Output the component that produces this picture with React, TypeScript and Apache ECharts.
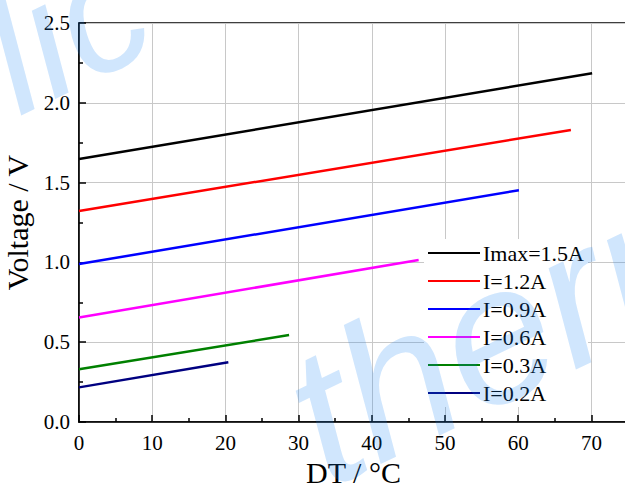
import React, { useEffect, useRef } from "react";
import * as echarts from "echarts";

const seriesNames = ["Imax=1.5A", "I=1.2A", "I=0.9A", "I=0.6A", "I=0.3A", "I=0.2A"];
const seriesColors = ["#000000", "#ff0000", "#0000ff", "#ff00ff", "#008000", "#000080"];
const startDT = [0, 0, 0, 0, 0, 0];
const endDT = [70.1, 67.2, 60.1, 46.4, 28.7, 20.4];
const startV = [1.648, 1.322, 0.99, 0.655, 0.33, 0.217];
const endV = [2.185, 1.83, 1.452, 1.015, 0.545, 0.374];
const xTicks = [0, 10, 20, 30, 40, 50, 60, 70];
const yTicks = [0.0, 0.5, 1.0, 1.5, 2.0, 2.5];

const serif = "'Liberation Serif', 'Times New Roman', serif";

export default function App() {
  const ref = useRef<HTMLDivElement>(null);
  useEffect(() => {
    if (!ref.current) return;
    const chart = echarts.init(ref.current, null, { renderer: "svg" });
    const series = seriesNames.map((name, i) => ({
      name,
      type: "line",
      data: [
        [startDT[i], startV[i]],
        [endDT[i], endV[i]],
      ],
      showSymbol: false,
      symbol: "none",
      lineStyle: { color: seriesColors[i], width: 2.5 },
      itemStyle: { color: seriesColors[i] },
      z: 3,
    }));
    chart.setOption({
      animation: false,
      backgroundColor: "#ffffff",
      grid: {
        left: 79,
        right: -3,
        top: 23,
        bottom: 62,
        outerBoundsMode: "none",
        containLabel: false,
        show: true,
        borderColor: "#000",
        borderWidth: 1.5,
      },
      xAxis: {
        type: "value",
        min: 0,
        max: 75,
        interval: 10,
        name: "DT / °C",
        nameLocation: "middle",
        nameGap: 27,
        nameTextStyle: { fontFamily: serif, fontSize: 30, color: "#000" },
        axisLine: { show: true, onZero: false, lineStyle: { color: "#000", width: 1.5 } },
        axisTick: { show: true, inside: true, length: 7, lineStyle: { color: "#000", width: 1.5 } },
        minorTick: { show: true, splitNumber: 2, length: 4, lineStyle: { color: "#000", width: 1.5 } },
        splitLine: { show: true, lineStyle: { color: "#c8c8c8", width: 1 } },
        axisLabel: {
          fontFamily: serif,
          fontSize: 21,
          color: "#000",
          margin: 10,
          formatter: (v: number) => (xTicks.includes(v) ? String(v) : ""),
        },
      },
      yAxis: {
        type: "value",
        min: 0,
        max: 2.5,
        interval: 0.5,
        name: "Voltage / V",
        nameLocation: "middle",
        nameGap: 41,
        nameTextStyle: { fontFamily: serif, fontSize: 30, color: "#000" },
        axisLine: { show: true, lineStyle: { color: "#000", width: 1.5 } },
        axisTick: { show: true, inside: true, length: 7, lineStyle: { color: "#000", width: 1.5 } },
        minorTick: { show: true, splitNumber: 2, length: 4, lineStyle: { color: "#000", width: 1.5 } },
        splitLine: { show: true, lineStyle: { color: "#c8c8c8", width: 1 } },
        axisLabel: {
          fontFamily: serif,
          fontSize: 21,
          color: "#000",
          margin: 9,
          formatter: (v: number) => (yTicks.includes(v) ? v.toFixed(1) : ""),
        },
      },
      legend: {
        orient: "vertical",
        left: 424,
        top: 239,
        padding: [3, 4, 3, 4],
        itemGap: 6,
        itemWidth: 52,
        itemHeight: 14,
        backgroundColor: "#ffffff",
        icon: "path://M0,6 L52,6 L52,8 L0,8 Z",
        textStyle: { fontFamily: serif, fontSize: 22, color: "#000", lineHeight: 22, padding: [0, 0, 0, -2] },
        data: seriesNames.map((n, i) => ({ name: n, itemStyle: { color: seriesColors[i] } })),
      },
      graphic: [
        {
          type: "text",
          x: 30,
          y: 140,
          rotation: 0.45,
          z: 100,
          silent: true,
          style: {
            text: "lic",
            fontFamily: "'Liberation Sans', Arial, sans-serif",
            fontSize: 170,
            fontStyle: "italic",
            fill: "rgba(20,130,245,0.2)",
            textVerticalAlign: "bottom",
          },
        },
        {
          type: "text",
          x: 342,
          y: 516,
          rotation: 0.45,
          z: 100,
          silent: true,
          style: {
            text: "therm",
            fontFamily: "'Liberation Sans', Arial, sans-serif",
            fontSize: 195,
            fontStyle: "italic",
            fill: "rgba(20,130,245,0.2)",
            textVerticalAlign: "bottom",
          },
        },
      ],
      series,
    });
    return () => chart.dispose();
  }, []);
  return <div ref={ref} style={{ width: 625, height: 484, position: "absolute", left: 0, top: 0 }} />;
}
